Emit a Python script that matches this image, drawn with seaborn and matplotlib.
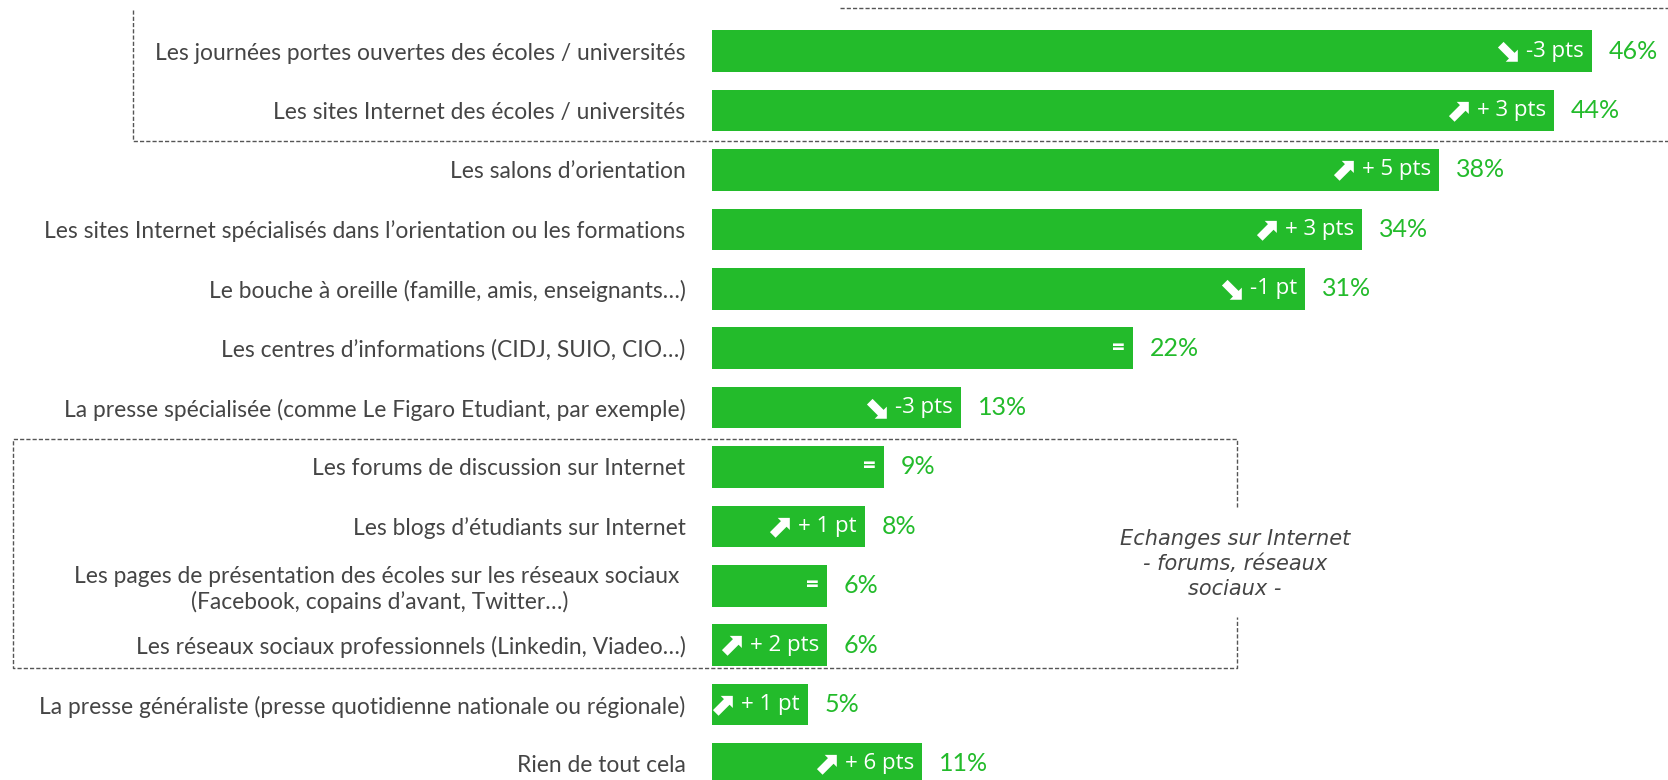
import pandas as pd
import matplotlib
matplotlib.use("Agg")
import matplotlib.pyplot as plt
import seaborn as sb

# Data
labels = [
    "Les journées portes ouvertes des écoles / universités",
    "Les sites Internet des écoles / universités",
    "Les salons d’orientation",
    "Les sites Internet spécialisés dans l’orientation ou les formations",
    "Le bouche à oreille (famille, amis, enseignants…)",
    "Les centres d’informations (CIDJ, SUIO, CIO…)",
    "La presse spécialisée (comme Le Figaro Etudiant, par exemple)",
    "Les forums de discussion sur Internet",
    "Les blogs d’étudiants sur Internet",
    "Les pages de présentation des écoles sur les réseaux sociaux \n(Facebook, copains d’avant, Twitter…)",
    "Les réseaux sociaux professionnels (Linkedin, Viadeo…)",
    "La presse généraliste (presse quotidienne nationale ou régionale)",
    "Rien de tout cela",
]
values = [46, 44, 38, 34, 31, 22, 13, 9, 8, 6, 6, 5, 11]
changes = ["-3 pts", "+ 3 pts", "+ 5 pts", "+ 3 pts", "-1 pt", "=", "-3 pts",
           "=", "+ 1 pt", "=", "+ 2 pts", "+ 1 pt", "+ 6 pts"]
trend = ["down", "up", "up", "up", "down", "flat", "down",
         "flat", "up", "flat", "up", "up", "up"]
box_note = "Echanges sur Internet\n- forums, réseaux\nsociaux -"

GREEN = "#23bb2b"
TEXT = "#454545"
W, H = 1668, 780

df = pd.DataFrame({"label": labels, "value": values})

fig = plt.figure(figsize=(W / 100, H / 100), dpi=100)
ax = fig.add_axes([712 / W, 0, (W - 712) / W, 1])
sb.barplot(x="value", y="label", data=df, color=GREEN, saturation=1,
           width=0.7, orient="h", ax=ax)
ax.set_xlim(0, (W - 712) / 19.13)
ax.set_ylim(12.27, -0.86)
ax.set_xlabel("")
ax.set_ylabel("")
ax.set_xticks([])
for s in ax.spines.values():
    s.set_visible(False)
ax.tick_params(axis="y", length=0, pad=19)
for t in ax.get_yticklabels():
    t.set_fontsize(16.4)
    t.set_color(TEXT)
    t.set_family("Lato")
    t.set_multialignment("center")

arrows = {"up": "⬈", "down": "⬊", "flat": ""}
fig.canvas.draw()
for i, (v, c, tr) in enumerate(zip(values, changes, trend)):
    lbl = ax.annotate(c, (v, i), xytext=(-8, 0), textcoords="offset pixels",
                      ha="right", va="center", color="white", fontsize=16,
                      family=["Open Sans", "DejaVu Sans"],
                      fontweight="bold" if tr == "flat" else "normal")
    if arrows[tr]:
        bb = lbl.get_window_extent(renderer=fig.canvas.get_renderer())
        x_end = ax.transData.transform((v, i))[0]
        ax.annotate(arrows[tr], (v, i), xytext=(bb.x0 - x_end - 6, -1),
                    textcoords="offset pixels", ha="right", va="center",
                    color="white", fontsize=23, fontweight="bold", family="DejaVu Sans")
    ax.annotate(f"{v}%", (v, i), xytext=(17, 0), textcoords="offset pixels",
                ha="left", va="center", color=GREEN, fontsize=18, family="Lato")

# dashed group boxes, drawn in pixel space on an overlay
ov = fig.add_axes([0, 0, 1, 1], facecolor="none")
ov.set_xlim(0, W)
ov.set_ylim(H, 0)
ov.axis("off")
dash = dict(color="#555555", lw=1, linestyle=(0, (3, 1.5)))
ov.plot([133, 133, W], [10, 141, 141], **dash)
ov.plot([840, W], [8, 8], **dash)
ov.plot([1237, 1237, 13, 13, 1237, 1237], [507, 439, 439, 668, 668, 617], **dash)
ov.text(1235, 564, box_note, ha="center", va="center", fontsize=15,
        style="italic", color=TEXT, family="DejaVu Sans", linespacing=1.3)

fig.savefig("out.png", dpi=100)
